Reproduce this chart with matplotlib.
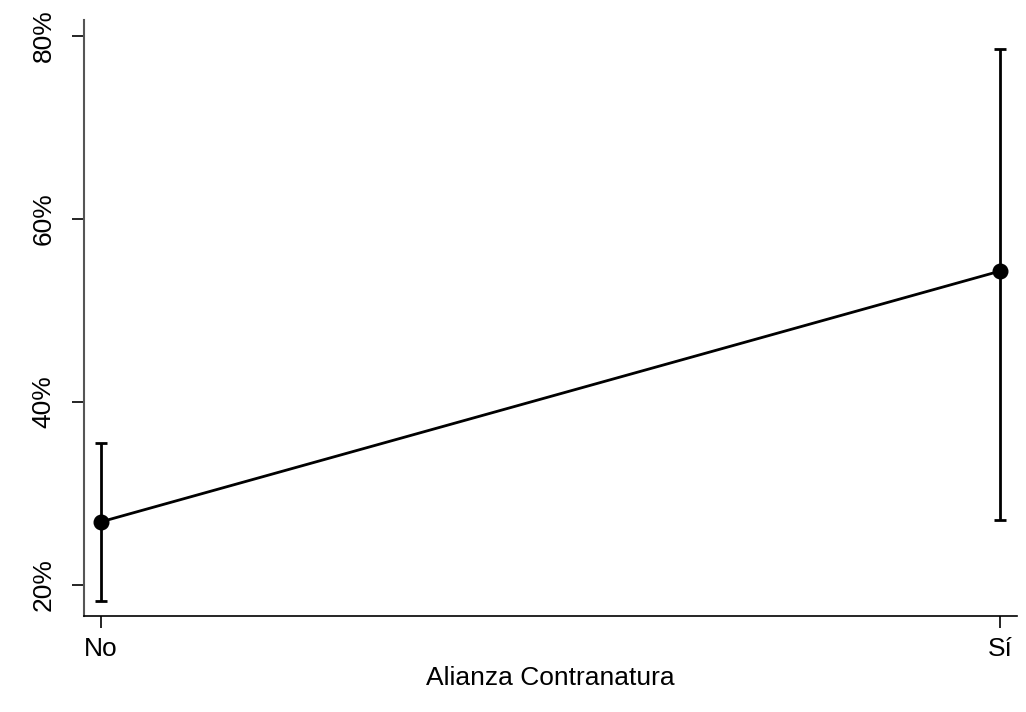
import matplotlib.pyplot as plt

plt.rcParams['font.family'] = ['Liberation Sans', 'DejaVu Sans']

categories = ["No", "Sí"]
prob = [26.9, 54.3]          # % predicho
lower = [18.2, 27.1]         # límite inferior del IC
upper = [35.5, 78.6]         # límite superior del IC
yticks = [20, 40, 60, 80]

x = list(range(len(categories)))
err = [[p - l for p, l in zip(prob, lower)], [u - p for p, u in zip(prob, upper)]]

fig = plt.figure(figsize=(10.26, 7.12), dpi=100)
ax = fig.add_axes([0.0819, 0.1348, 0.9093, 0.8371])

ax.errorbar(x, prob, yerr=err, fmt='none', ecolor='black', elinewidth=2,
            capsize=4.5, capthick=2)
ax.plot(x, prob, color='black', lw=2, marker='o', markersize=10.5)

ax.set_xlim(-0.019, 1.019)
ax.set_ylim(16.6, 81.75)
ax.set_xticks(x)
ax.set_xticklabels(categories)
ax.set_yticks(yticks)
ax.set_yticklabels([f"{t}%" for t in yticks], rotation=90, va='center')
ax.set_xlabel("Alianza Contranatura", fontsize=19, labelpad=4)

ax.tick_params(axis='both', labelsize=19, length=8.5, width=1.2)
ax.tick_params(axis='x', pad=6.5)
ax.tick_params(axis='y', pad=12)
ax.spines['top'].set_visible(False)
ax.spines['right'].set_visible(False)
ax.spines['left'].set_color('#555555')
ax.spines['left'].set_linewidth(1.5)
ax.spines['bottom'].set_linewidth(1.2)

fig.savefig("out.png", dpi=100)
